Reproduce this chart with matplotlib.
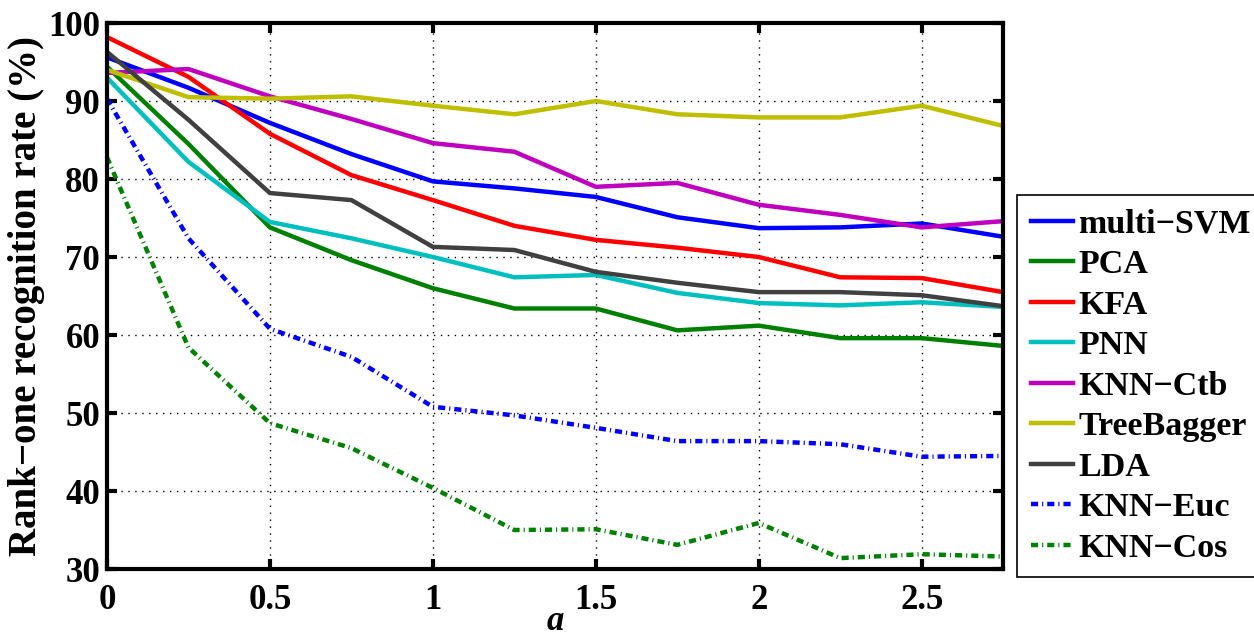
import matplotlib
matplotlib.use('Agg')
import numpy as np
from matplotlib import pyplot as plt

# x values (a) and rank-one recognition rates (%)
a_vals = [0, 0.25, 0.5, 0.75, 1.0, 1.25, 1.5, 1.75, 2.0, 2.25, 2.5, 2.75]

multi_svm = [95.6, 91.7, 87.2, 83.2, 79.7, 78.8, 77.7, 75.1, 73.7, 73.8, 74.3, 72.6]
pca = [94.4, 84.5, 73.8, 69.6, 66.0, 63.4, 63.4, 60.6, 61.2, 59.6, 59.6, 58.6]
kfa = [98.2, 93.1, 85.8, 80.5, 77.3, 74.0, 72.2, 71.2, 70.0, 67.4, 67.3, 65.5]
pnn = [93.0, 82.2, 74.5, 72.4, 70.0, 67.4, 67.7, 65.4, 64.1, 63.8, 64.2, 63.6]
knn_ctb = [93.6, 94.1, 90.6, 87.7, 84.6, 83.5, 79.0, 79.5, 76.7, 75.4, 73.8, 74.6]
tree_bagger = [94.0, 90.5, 90.3, 90.6, 89.4, 88.3, 90.0, 88.3, 87.9, 87.9, 89.4, 86.8]
lda = [96.3, 87.6, 78.2, 77.3, 71.3, 70.9, 68.1, 66.7, 65.5, 65.5, 65.1, 63.7]
knn_euc = [90.3, 72.4, 60.8, 57.2, 50.8, 49.7, 48.1, 46.4, 46.4, 46.0, 44.4, 44.5]
knn_cos = [82.8, 58.4, 48.7, 45.5, 40.4, 35.0, 35.1, 33.1, 35.9, 31.4, 31.9, 31.6]

labels = ['multi\u2212SVM', 'PCA', 'KFA', 'PNN', 'KNN\u2212Ctb',
          'TreeBagger', 'LDA', 'KNN\u2212Euc', 'KNN\u2212Cos']
series = [multi_svm, pca, kfa, pnn, knn_ctb, tree_bagger, lda, knn_euc, knn_cos]
colors = [(0, 0, 1), (0, 0.5, 0), (1, 0, 0), (0, 0.75, 0.75), (0.75, 0, 0.75),
          (0.75, 0.75, 0), (0.25, 0.25, 0.25), (0, 0, 1), (0, 0.5, 0)]
dashdot = (0, (1.6, 0.9, 0.25, 0.9))
styles = ['-'] * 7 + [dashdot, dashdot]

plt.rcParams['font.family'] = ['Liberation Serif', 'DejaVu Serif']
plt.rcParams['font.weight'] = 'bold'

fig = plt.figure(figsize=(12.54, 6.36), dpi=100)
ax = fig.add_axes([0.0853, 0.1053, 0.7147, 0.8585])

for y, lab, col, ls in zip(series, labels, colors, styles):
    ax.plot(a_vals, y, color=col, linestyle=ls, linewidth=3.2, label=lab)

ax.set_xlim(0, 2.75)
ax.set_ylim(30, 100)
ax.set_xticks([0, 0.5, 1, 1.5, 2, 2.5])
ax.set_xticklabels(['0', '0.5', '1', '1.5', '2', '2.5'])
ax.set_yticks(np.arange(30, 101, 10))
ax.grid(True, linestyle=(0, (1, 4)), color='black', linewidth=1.0)
ax.tick_params(axis='both', which='major', direction='in', length=7, width=3,
               top=True, right=True, labelsize=25)
ax.tick_params(axis='x', pad=11)
ax.tick_params(axis='y', pad=5)
for lbl in ax.get_xticklabels() + ax.get_yticklabels():
    lbl.set_fontweight('bold')
for sp in ax.spines.values():
    sp.set_linewidth(3)

ax.set_ylabel('Rank\u2212one recognition rate (%)', fontsize=28, fontweight='bold', labelpad=2)
ax.set_xlabel('a', fontsize=25, fontweight='bold', style='italic', labelpad=-9)

leg = ax.legend(loc='upper left', bbox_to_anchor=(1017 / 1254, 1 - 195 / 636),
                bbox_transform=fig.transFigure, fontsize=24.5, frameon=True,
                fancybox=False, framealpha=1, edgecolor='black',
                handlelength=1.25, handletextpad=0.15, labelspacing=0.28,
                borderpad=0.4, borderaxespad=0)
leg.get_frame().set_linewidth(1.2)
for t in leg.get_texts():
    t.set_fontweight('bold')

fig.savefig('out.png', dpi=100)
